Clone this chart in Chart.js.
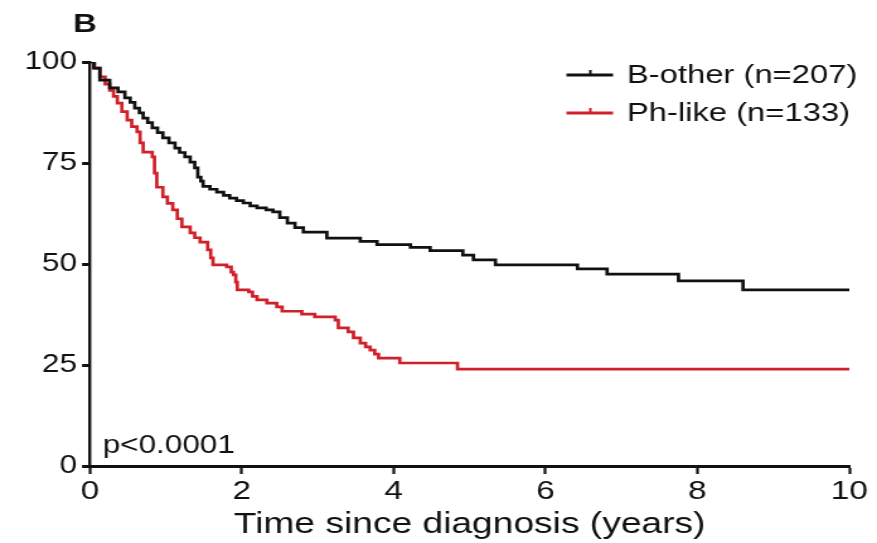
<!DOCTYPE html>
<html>
<head>
<meta charset="utf-8">
<title>Kaplan-Meier</title>
<script src="https://cdn.jsdelivr.net/npm/chart.js@4/dist/chart.umd.min.js"></script>
<style>
  html, body { margin: 0; padding: 0; background: #fff; overflow: hidden; }
  #wrap { width: 877px; height: 543px; }
  /* the figure is stretched sideways, like the printed panel */
  #km { display: block; transform: scaleX(1.2601); transform-origin: 0 0; }
</style>
</head>
<body>
<div id="wrap"><canvas id="km" width="696" height="543" style="width:696px;height:543px"></canvas></div>
<script>
// survival steps: time of drop (years) and survival after it (%)
const bOtherTime = [0, 0.05, 0.13, 0.26, 0.37, 0.46, 0.53, 0.59, 0.65, 0.70, 0.76, 0.82, 0.89, 0.96, 1.04, 1.12, 1.18, 1.25, 1.32, 1.38, 1.42, 1.46, 1.49, 1.58, 1.67, 1.76, 1.84, 1.93, 2.02, 2.11, 2.20, 2.32, 2.41, 2.50, 2.60, 2.70, 2.81, 3.12, 3.56, 3.78, 4.22, 4.48, 4.91, 5.05, 5.34, 6.42, 6.81, 7.75, 8.60, 10];
const bOtherSurv = [100, 98.5, 95.5, 93.6, 92.6, 91.1, 90, 88.6, 87.4, 86.1, 85, 83.7, 82.5, 81.2, 80, 78.7, 77.6, 76.5, 75.2, 73.8, 71.5, 70.5, 69.2, 68.5, 67.8, 67, 66.3, 65.7, 65.1, 64.4, 63.9, 63.4, 62.9, 61.5, 60.1, 59, 57.9, 56.4, 55.6, 54.8, 54.1, 53.3, 52.2, 51, 49.8, 48.8, 47.5, 45.8, 43.6, 43.6];

const phLikeTime = [0, 0.06, 0.13, 0.20, 0.26, 0.31, 0.36, 0.42, 0.49, 0.55, 0.62, 0.66, 0.70, 0.82, 0.85, 0.88, 0.96, 1.02, 1.09, 1.15, 1.21, 1.32, 1.38, 1.45, 1.55, 1.59, 1.62, 1.80, 1.86, 1.89, 1.92, 1.94, 2.09, 2.14, 2.20, 2.33, 2.46, 2.53, 2.79, 2.96, 3.23, 3.27, 3.40, 3.47, 3.56, 3.63, 3.69, 3.75, 3.80, 4.08, 4.84, 10];
const phLikeSurv = [100, 98.5, 96.3, 94.5, 93, 91.5, 89.8, 87.7, 85.6, 84, 82.7, 80, 77.7, 76.5, 72.5, 69, 66.6, 65, 63.4, 61.2, 59.2, 57.7, 56.5, 55.4, 53.5, 51.5, 49.8, 49.3, 48, 47.3, 45.5, 43.6, 43.1, 42, 41.1, 40.3, 39.4, 38.3, 37.6, 36.9, 36.1, 34.2, 33.2, 31.7, 30.4, 29.5, 28.7, 27.7, 26.7, 25.5, 24.0, 24.0];

const seriesNames = ['B-other (n=207)', 'Ph-like (n=133)'];
const xTicks = [0, 2, 4, 6, 8, 10];
const yTicks = [0, 25, 50, 75, 100];
const xTitle = 'Time since diagnosis (years)';
const panelLetter = 'B';
const pValueText = 'p<0.0001';

const FONT = '"Liberation Sans", Arial, Helvetica, sans-serif';
const INK = '#111';

function toPoints(times, surv) {
  return times.map((t, i) => ({ x: t, y: surv[i] }));
}

// panel letter, p value and the little legend with censor ticks
const panelText = {
  id: 'panelText',
  afterDraw(chart) {
    const { ctx, chartArea } = chart;
    ctx.save();
    ctx.fillStyle = INK;
    ctx.textBaseline = 'alphabetic';
    ctx.font = 'bold 26px ' + FONT;
    ctx.fillText(panelLetter, 58, 32);
    ctx.font = '25px ' + FONT;
    ctx.fillText(pValueText, chartArea.left + 10, chartArea.bottom - 13);

    chart.data.datasets.forEach((ds, i) => {
      const y = chartArea.top + 13 + i * 38;
      const x0 = chartArea.right - 224.5;
      ctx.strokeStyle = ds.borderColor;
      ctx.lineWidth = 3;
      ctx.beginPath();
      ctx.moveTo(x0, y);
      ctx.lineTo(x0 + 37, y);
      ctx.stroke();
      ctx.lineWidth = 2;
      ctx.beginPath();
      ctx.moveTo(x0 + 19, y + 1);
      ctx.lineTo(x0 + 19, y - 5);
      ctx.stroke();
      ctx.fillStyle = INK;
      ctx.font = '26px ' + FONT;
      ctx.textBaseline = 'middle';
      ctx.fillText(ds.label, x0 + 48, y + 1);
    });
    ctx.restore();
  }
};

const ctx = document.getElementById('km').getContext('2d');
const chart = new Chart(ctx, {
  type: 'line',
  data: {
    datasets: [
      {
        label: seriesNames[0],
        data: toPoints(bOtherTime, bOtherSurv),
        borderColor: '#111111',
        borderWidth: 2.7,
        stepped: true,
        pointRadius: 0,
        fill: false
      },
      {
        label: seriesNames[1],
        data: toPoints(phLikeTime, phLikeSurv),
        borderColor: '#d0202a',
        borderWidth: 2.7,
        stepped: true,
        pointRadius: 0,
        fill: false
      }
    ]
  },
  options: {
    responsive: false,
    animation: false,
    devicePixelRatio: 1,
    layout: { padding: { left: 0, right: 22, top: 62, bottom: 0 } },
    plugins: {
      legend: { display: false },
      tooltip: { enabled: false }
    },
    scales: {
      x: {
        type: 'linear',
        min: 0,
        max: 10,
        afterBuildTicks: (scale) => { scale.ticks = xTicks.map(v => ({ value: v })); },
        afterFit: (scale) => { scale.height = 77; },
        grid: { drawOnChartArea: false, drawTicks: true, tickLength: 8, tickWidth: 2.2, tickColor: INK },
        border: { display: true, color: INK, width: 3 },
        ticks: { color: INK, font: { family: FONT, size: 26.5 }, padding: 2, maxRotation: 0 },
        title: { display: true, text: xTitle, color: INK, font: { family: FONT, size: 29.5 }, padding: { top: 0, bottom: 0 } }
      },
      y: {
        type: 'linear',
        min: 0,
        max: 100,
        afterBuildTicks: (scale) => { scale.ticks = yTicks.map(v => ({ value: v })); },
        afterFit: (scale) => { scale.width = 71.4; },
        grid: { drawOnChartArea: false, drawTicks: true, tickLength: 6.3, tickWidth: 3, tickColor: INK },
        border: { display: true, color: INK, width: 2.4 },
        ticks: { color: INK, font: { family: FONT, size: 25 }, padding: 4 }
      }
    }
  },
  plugins: [panelText]
});
</script>
</body>
</html>
